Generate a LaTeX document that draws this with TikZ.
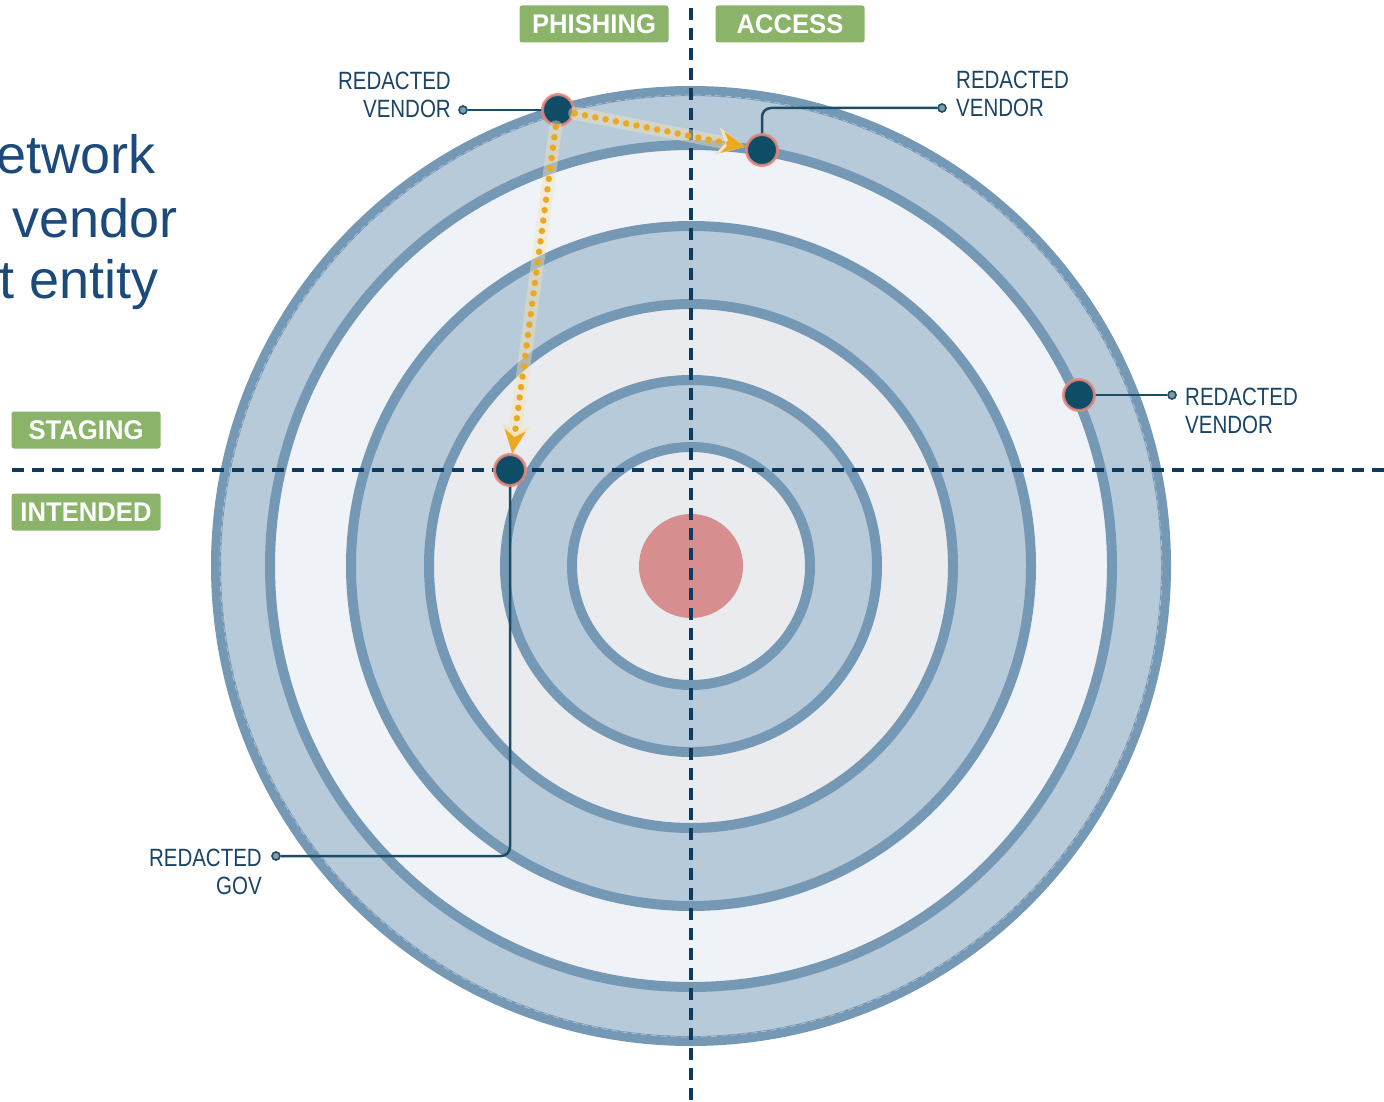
\documentclass[tikz,border=0pt]{standalone}
\usepackage{fontspec}
\setmainfont{Liberation Sans}
\newfontfamily\condfont[FakeStretch=0.82]{Liberation Sans}
\newfontfamily\tagfont[FakeStretch=0.95]{Liberation Sans}
\usetikzlibrary{arrows.meta}

\definecolor{band}{HTML}{B7CAD9}
\definecolor{ringline}{HTML}{7598B5}
\definecolor{paleA}{HTML}{EFF3F7}
\definecolor{paleB}{HTML}{E9EBEF}
\definecolor{core}{HTML}{D68E8E}
\definecolor{navy}{HTML}{0E3A5E}
\definecolor{dotfill}{HTML}{0F4C66}
\definecolor{dotrim}{HTML}{E8877F}
\definecolor{lead}{HTML}{1B4D63}
\definecolor{labeltext}{HTML}{1B4567}
\definecolor{amber}{HTML}{EAA823}
\definecolor{halo}{HTML}{F4E3B5}
\definecolor{tag}{HTML}{8BB46A}
\definecolor{headline}{HTML}{1B4A7B}

\begin{document}
\begin{tikzpicture}[x=1pt,y=-1pt,
  ring/.style={draw=ringline, line width=10pt},
  axis/.style={draw=navy, line width=3.5pt, dash pattern=on 12pt off 8pt},
  hit/.style={circle, fill=dotfill, draw=dotrim, draw opacity=0.85, line width=3pt,
              minimum size=31pt, inner sep=0pt},
  tip/.style={circle, draw=lead, fill=lead!55!white, line width=1.6pt,
              minimum size=8pt, inner sep=0pt},
  leader/.style={draw=lead, line width=2.5pt},
  callout/.style={font=\condfont\fontsize{25}{28.5}\selectfont, text=labeltext, inner sep=0pt},
  phase/.style={fill=tag, rounded corners=2.5pt, minimum width=149pt, minimum height=37pt,
                inner sep=0pt, text=white, font=\tagfont\bfseries\fontsize{27}{27}\selectfont},
  pathglow/.style={draw=halo, draw opacity=0.45, line width=13pt, line cap=round},
  pathdots/.style={draw=amber, line width=6.5pt, line cap=round, dash pattern=on 0pt off 10.5pt},
  headtext/.style={anchor=base west, inner sep=0pt, text=headline,
                   font=\fontsize{54}{60}\selectfont},
]
\fill[white] (0,0) rectangle (1384,1102);
\useasboundingbox (0,0) rectangle (1384,1102);

% target rings, outermost first
\coordinate (ctr) at (691,566);
\foreach \r/\c in {475/band,421/paleA,340/band,262/paleB,186/band,119/paleB}
  \filldraw[ring, fill=\c] (ctr) circle[radius=\r pt];
\draw[white, opacity=0.4, line width=0.8pt, dash pattern=on 6pt off 4pt]
  (ctr) circle[radius=471pt];
\fill[core] (ctr) circle[radius=52pt];

% quadrant axes
\coordinate (vt) at (691,8);
\coordinate (vb) at (691,1102);
\coordinate (hl) at (12,470);
\coordinate (hr) at (1384,470);
\draw[axis] (vt) -- (vb);
\draw[axis] (hl) -- (hr);

% phase tags
\node[phase] (ph) at (594,24) {PHISHING};
\node[phase] (ac) at (790,24) {ACCESS};
\node[phase] (st) at (86,430) {STAGING};
\node[phase] (in) at (86,512) {INTENDED};

% headline fragment
\node[headtext] (h1) at (-4,174) {etwork};
\node[headtext] (h2) at (12,237) {vendor};
\node[headtext] (h3) at (-1,298) {t entity};

% positions of the hits
\coordinate (p1) at (558,110);
\coordinate (p2) at (762,150);
\coordinate (p3) at (1079,395);
\coordinate (p4) at (510,470);

% leader ends
\node[tip] (e1) at (463,110) {};
\node[tip] (e2) at (942,108) {};
\node[tip] (e3) at (1172,395) {};
\node[tip] (e4) at (276,856) {};

\draw[leader] (p1) -- (e1);
\draw[leader, rounded corners=9pt] (p2) |- (e2);
\draw[leader] (p3) -- (e3);
\draw[leader, rounded corners=9pt] (p4) |- (e4);

% hits
\node[hit] (v1) at (p1) {};
\node[hit] (v2) at (p2) {};
\node[hit] (v3) at (p3) {};
\node[hit] (g1) at (p4) {};

% lateral movement
\foreach \a/\b in {v1/v2, v1/g1} {
  \draw[pathglow, -{Stealth[length=29pt,width=28pt,inset=9pt,line width=0pt]}] (\a) -- (\b);
  \draw[pathdots, -{Stealth[length=23pt,width=21pt,inset=7pt,line width=0.1pt]}] (\a) -- (\b);
}

% callout labels
\node[callout, anchor=east, align=right] (l1) at (451,95) {REDACTED\\VENDOR};
\node[callout, anchor=west, align=left] (l2) at (956,94) {REDACTED\\VENDOR};
\node[callout, anchor=west, align=left] (l3) at (1185,411) {REDACTED\\VENDOR};
\node[callout, anchor=east, align=right] (l4) at (262,872) {REDACTED\\GOV};
\end{tikzpicture}
\end{document}
